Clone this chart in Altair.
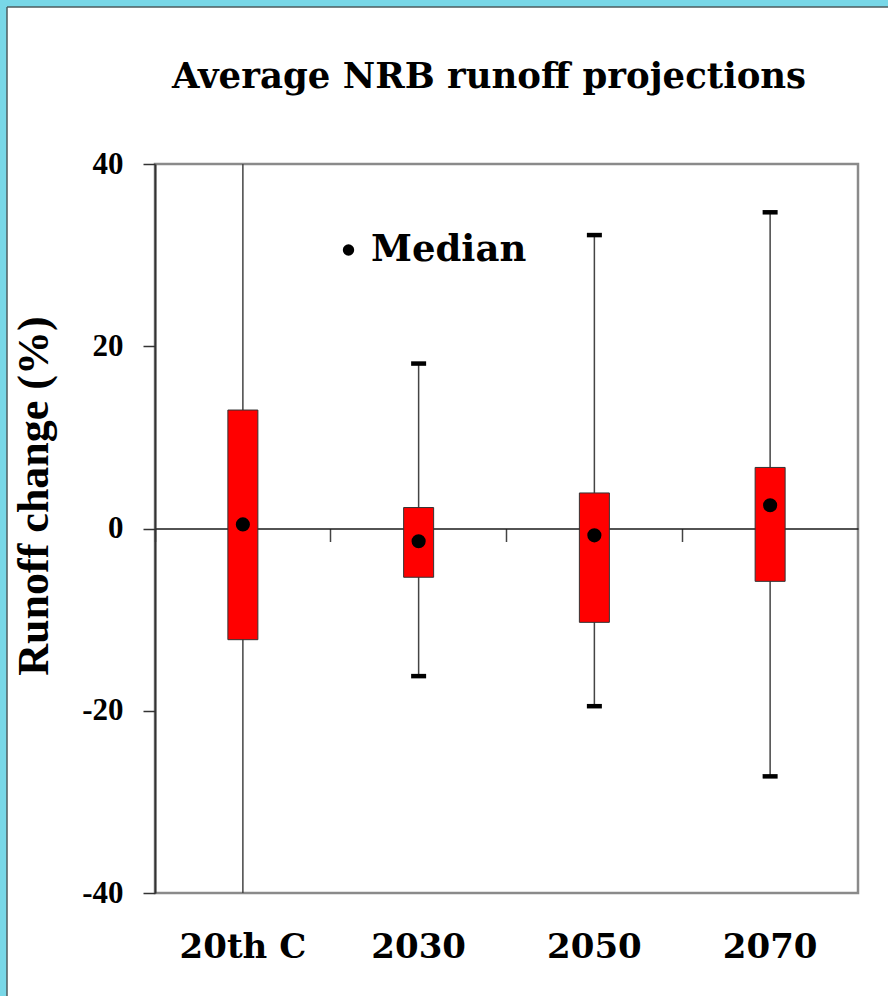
import altair as alt
import pandas as pd

# ---- data ----
categories = ["20th C", "2030", "2050", "2070"]
whisker_low = [-44.0, -16.2, -19.5, -27.2]   # 20th C whisker runs past the axis range
whisker_high = [44.0, 18.1, 32.2, 34.7]
box_low = [-12.2, -5.35, -10.3, -5.8]
box_high = [13.0, 2.3, 3.9, 6.7]
median = [0.45, -1.4, -0.75, 2.55]
y_ticks = [-40, -20, 0, 20, 40]

df = pd.DataFrame({
    "period": categories,
    "wlo": whisker_low,
    "whi": whisker_high,
    "blo": box_low,
    "bhi": box_high,
    "med": median,
    "series": ["Median"] * len(categories),
})
frame_df = pd.DataFrame({"k": [0]})

W, H = 703, 729
PAD = {"left": 155, "top": 164, "right": 30, "bottom": 103}
CYAN = "#78d7e7"
EDGE = "#4d5b5e"

xscale = alt.Scale(type="band", domain=categories, paddingInner=0, paddingOuter=0)
yscale = alt.Scale(domain=[-40, 40], nice=False, zero=False)

x_axis = alt.Axis(
    orient="bottom", offset=-364.5, title=None, grid=False,
    domainColor="#1a1a1a", domainWidth=1.5,
    ticks=True, tickSize=13, tickColor="#444444", tickWidth=1.5, bandPosition=0,
    labelPadding=415.5, labelBaseline="alphabetic", labelAngle=0,
    labelFont="DejaVu Serif", labelFontSize=34, labelFontWeight="bold", labelColor="black",
)
y_axis = alt.Axis(
    values=y_ticks, labelExpr="'' + datum.value", grid=False,
    labelFont="Liberation Serif", labelFontSize=31, labelFontWeight="bold", labelColor="black",
    labelPadding=20, tickSize=12, tickColor="#333333", tickWidth=1.5,
    domainColor="#333333", domainWidth=2,
    title="Runoff change (%)", titleFont="Liberation Serif", titleFontSize=44,
    titleFontWeight="bold", titleColor="black", titleAngle=270, titleAlign="center",
    titleBaseline="alphabetic", titleX=-108, titleY=331.5,
)

X = alt.X("period:N", scale=xscale, axis=x_axis, sort=categories)

# decorative slide frame (cyan strips at left and top)
left_strip = alt.Chart(frame_df).mark_rect(color=CYAN).encode(
    x=alt.value(-155), x2=alt.value(-148), y=alt.value(-164), y2=alt.value(H + PAD["bottom"]))
top_strip = alt.Chart(frame_df).mark_rect(color=CYAN).encode(
    x=alt.value(-155), x2=alt.value(W + PAD["right"]), y=alt.value(-164), y2=alt.value(-157))
left_edge = alt.Chart(frame_df).mark_rule(color=EDGE, strokeWidth=1.5).encode(
    x=alt.value(-148), y=alt.value(-157), y2=alt.value(H + PAD["bottom"]))
top_edge = alt.Chart(frame_df).mark_rule(color=EDGE, strokeWidth=1.5).encode(
    x=alt.value(-148), x2=alt.value(W + PAD["right"]), y=alt.value(-157))

base = alt.Chart(df)

whiskers = base.mark_rule(color="#444444", strokeWidth=1.5, clip=True).encode(
    x=X,
    y=alt.Y("wlo:Q", scale=yscale, axis=y_axis),
    y2="whi:Q",
)
boxes = base.mark_bar(size=30, fill="#ff0000", stroke="#333333", strokeWidth=1).encode(
    x=X,
    y=alt.Y("blo:Q", scale=yscale, axis=y_axis),
    y2="bhi:Q",
)
caps_low = base.mark_tick(color="black", thickness=4.5, size=15, opacity=1, clip=True).encode(
    x=X,
    y=alt.Y("wlo:Q", scale=yscale, axis=y_axis),
)
caps_high = base.mark_tick(color="black", thickness=4.5, size=15, opacity=1, clip=True).encode(
    x=X,
    y=alt.Y("whi:Q", scale=yscale, axis=y_axis),
)
medians = base.mark_point(filled=True, size=200, opacity=1, shape="circle").encode(
    x=X,
    y=alt.Y("med:Q", scale=yscale, axis=y_axis),
    color=alt.Color(
        "series:N",
        scale=alt.Scale(domain=["Median"], range=["black"]),
        legend=alt.Legend(
            orient="none", legendX=175, legendY=67.5, title=None, padding=0,
            labelFont="DejaVu Serif", labelFontSize=37, labelFontWeight="bold",
            labelColor="black", labelOffset=4,
            symbolType="circle", symbolSize=130, symbolFillColor="black",
            symbolStrokeWidth=0,
        ),
    ),
)

chart = alt.layer(
    left_strip, top_strip, left_edge, top_edge,
    whiskers, boxes, caps_low, caps_high, medians,
).properties(
    width=W, height=H, padding=PAD, autosize="none", background="white",
    title=alt.TitleParams(
        "Average NRB runoff projections", font="DejaVu Serif", fontSize=35.5,
        fontWeight="bold", color="black", anchor="middle", frame="group",
        dx=-17.5, baseline="alphabetic", offset=-123,
    ),
).configure_view(stroke="#8a8a8a", strokeWidth=2.5)

chart.save("out.html", embed_options={"renderer": "svg", "actions": False})
